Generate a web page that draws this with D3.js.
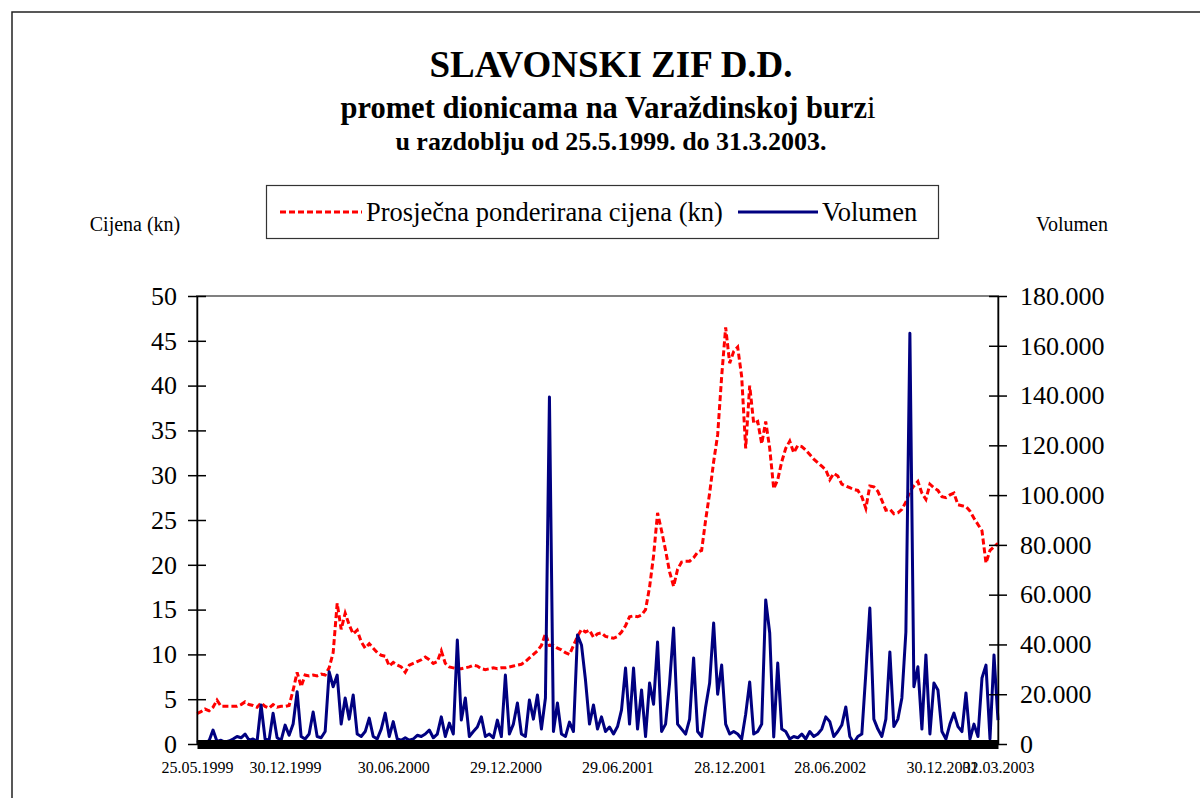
<!DOCTYPE html>
<meta charset="utf-8">
<style>
body { margin: 0; background: #fff; }
svg { display: block; font-family: "Liberation Serif", "Times New Roman", serif; }
.price { fill: none; stroke: #ff0000; stroke-width: 3px; stroke-dasharray: 6,3; }
.volume { fill: none; stroke: #000080; stroke-width: 3px; stroke-linejoin: round; }
.axis path, .axis line { stroke: #000; stroke-width: 1.5px; }
.axis text { font-family: "Liberation Serif", serif; fill: #000; }
</style>
<body>
<script src="https://d3js.org/d3.v7.min.js"></script>
<script>

// tick labels on the category axis and the sample index each one sits at
var tickLabels = ["25.05.1999", "30.12.1999", "30.06.2000", "29.12.2000", "29.06.2001",
                  "28.12.2001", "28.06.2002", "30.12.2002", "31.03.2003"];
var tickIndex = [0, 22, 49, 77, 105, 133, 158, 186, 200];

// average weighted price (kn)
var price = [
  3.4,3.6,3.9,3.7,4.1,4.9,4.2,4.2,4.2,4.2,
  4.2,4.4,4.7,4.4,4.3,4.1,4.6,4.2,4.0,4.4,
  4.1,4.2,4.2,4.3,6.0,8.0,6.4,7.7,7.6,7.7,
  7.6,7.8,7.7,8.5,10.2,15.7,12.8,14.6,13.3,12.3,
  12.7,11.4,10.7,11.2,10.7,10.2,9.9,9.8,8.7,9.1,
  8.8,8.6,8.0,8.8,9.0,9.2,9.4,9.7,9.4,9.0,
  9.2,10.4,9.0,8.6,8.5,8.4,8.4,8.5,8.6,8.8,
  8.7,8.4,8.3,8.4,8.5,8.4,8.5,8.5,8.6,8.7,
  8.8,8.9,9.2,9.6,10.0,10.4,11.0,12.3,11.0,11.0,
  10.7,10.5,10.2,10.0,11.0,12.0,12.8,12.5,12.7,11.9,
  12.3,12.4,12.0,11.9,11.8,12.0,12.5,13.2,14.2,14.3,
  14.2,14.4,15.0,17.5,21.0,25.8,23.8,21.6,19.2,17.6,
  19.5,20.3,20.4,20.4,20.8,21.4,21.6,25.0,28.0,31.5,
  34.5,41.0,46.5,42.5,43.8,44.3,41.0,33.0,40.0,35.8,
  36.0,33.5,36.0,33.0,28.5,29.5,31.5,33.0,33.8,32.5,
  33.3,33.2,32.8,32.3,31.8,31.4,31.0,30.6,29.5,30.2,
  29.9,29.0,28.8,28.6,28.4,28.3,27.6,26.3,28.8,28.7,
  28.2,27.2,26.1,26.2,25.7,25.8,26.2,27.0,28.2,28.8,
  29.3,28.0,27.3,29.0,28.6,28.3,27.6,27.5,27.8,28.0,
  26.7,26.6,26.5,26.0,25.2,24.5,23.8,20.2,21.6,22.0,
  22.4
];

// traded volume
var volume = [
  500,1000,800,1200,5600,1000,1500,800,1200,2000,
  3000,2500,4000,1500,2000,1000,15700,2000,1500,12400,
  2500,1500,7600,3500,8000,21000,3000,2000,4000,12900,
  3000,2500,5000,29000,23000,27700,8000,18500,10000,19700,
  4000,3000,5000,10400,3000,2000,6000,12400,3000,9000,
  2000,1500,2500,1500,2000,3500,3000,4000,5600,2500,
  4000,10900,3000,8400,4000,41800,9600,18500,3000,5000,
  6800,10900,3000,4000,2500,9600,3000,27700,4000,8000,
  16500,4000,3000,17700,10000,19700,6000,18500,139400,5000,
  16500,4000,3000,8800,5000,43800,39800,25700,8000,15700,
  6000,10900,5000,6800,4000,7000,13700,30500,8000,30500,
  6000,21700,3000,24500,16000,41000,5000,8000,24500,46600,
  8000,6000,4000,10000,34600,5000,3000,14900,24500,48600,
  20000,31700,8000,4000,5000,4000,2000,12000,24900,4000,
  5000,8000,57900,44600,2800,32500,6000,5000,2000,3000,
  2500,4000,2000,5000,3000,4000,6000,10900,9000,3000,
  5000,7600,14900,3000,500,3000,4000,28500,54600,10000,
  6000,3000,10000,37000,7000,10000,18500,45000,165000,23000,
  31000,6000,35800,4000,24500,21700,5000,2000,8000,12400,
  7000,5000,20500,2000,8000,3000,26500,31700,2000,35800,
  9600
];

var priceTicks = d3.range(0, 51, 5);
var volumeTicks = d3.range(0, 180001, 20000);

var W = 1200, H = 798;
var margin = {top: 296, left: 197},
    width = 801,
    height = 448;

var svg = d3.select("body").append("svg")
    .attr("width", W)
    .attr("height", H);

// outer chart border (runs off the page right and bottom)
svg.append("path")
    .attr("d", "M12,800V12H1202")
    .attr("fill", "none")
    .attr("stroke", "#222")
    .attr("stroke-width", 1.5);

// titles
svg.append("text").attr("x", 611).attr("y", 77).attr("text-anchor", "middle")
    .style("font-size", "37px").style("font-weight", "bold")
    .text("SLAVONSKI ZIF D.D.");
var t2 = svg.append("text").attr("x", 608).attr("y", 118).attr("text-anchor", "middle")
    .style("font-size", "30.5px").style("font-weight", "bold");
t2.append("tspan").text("promet dionicama na Varaždinskoj burz");
t2.append("tspan").style("font-weight", "normal").text("i");
svg.append("text").attr("x", 611).attr("y", 150).attr("text-anchor", "middle")
    .style("font-size", "26px").style("font-weight", "bold")
    .text("u razdoblju od 25.5.1999. do 31.3.2003.");

// legend
var leg = svg.append("g");
leg.append("rect").attr("x", 266.5).attr("y", 185.5).attr("width", 672).attr("height", 53)
    .attr("fill", "#fff").attr("stroke", "#333").attr("stroke-width", 1.2);
leg.append("line").attr("class", "price").attr("x1", 280).attr("x2", 362).attr("y1", 212).attr("y2", 212);
leg.append("text").attr("x", 366).attr("y", 221).style("font-size", "26.5px")
    .text("Prosječna ponderirana cijena (kn)");
leg.append("line").attr("class", "volume").attr("x1", 738).attr("x2", 818).attr("y1", 212).attr("y2", 212);
leg.append("text").attr("x", 822).attr("y", 221).style("font-size", "26.5px").text("Volumen");

// axis titles
svg.append("text").attr("x", 135).attr("y", 231).attr("text-anchor", "middle")
    .style("font-size", "20px").text("Cijena (kn)");
svg.append("text").attr("x", 1072).attr("y", 231).attr("text-anchor", "middle")
    .style("font-size", "20px").text("Volumen");

var g = svg.append("g").attr("transform", "translate(" + margin.left + "," + margin.top + ")");

var x = d3.scaleLinear().domain([0, price.length - 1]).range([0, width]);
var y = d3.scaleLinear().domain([0, 50]).range([height, 0]);
var y2 = d3.scaleLinear().domain([0, 180000]).range([height, 0]);

// plot area frame
g.append("rect").attr("width", width).attr("height", height)
    .attr("fill", "none").attr("stroke", "#808080").attr("stroke-width", 2);

var priceLine = d3.line()
    .x(function(d, i) { return x(i); })
    .y(function(d) { return y(d); });
var volumeLine = d3.line()
    .x(function(d, i) { return x(i); })
    .y(function(d) { return y2(d); });

g.append("path").datum(price).attr("class", "price").attr("d", priceLine);
g.append("path").datum(volume).attr("class", "volume").attr("d", volumeLine);

var fmt = d3.formatLocale({decimal: ",", thousands: ".", grouping: [3], currency: ["", ""]}).format(",");

// left axis, ticks crossing the line
var ya = g.append("g").attr("class", "axis")
    .call(d3.axisLeft(y).tickValues(priceTicks).tickSizeOuter(0).tickSizeInner(9).tickPadding(11));
ya.selectAll(".tick line").attr("x1", 9);
ya.selectAll("text").style("font-size", "26px");

// right axis
var yb = g.append("g").attr("class", "axis")
    .attr("transform", "translate(" + width + ",0)")
    .call(d3.axisRight(y2).tickValues(volumeTicks).tickFormat(fmt).tickSizeOuter(0).tickSizeInner(9).tickPadding(13));
yb.selectAll(".tick line").attr("x1", -9);
yb.selectAll("text").style("font-size", "26px");

// bottom axis: dense daily ticks make a solid black band
var xa = g.append("g").attr("class", "axis")
    .attr("transform", "translate(0," + height + ")")
    .call(d3.axisBottom(x).tickValues(tickIndex)
        .tickFormat(function(d, i) { return tickLabels[i]; })
        .tickSize(0).tickPadding(18));
xa.select(".domain").style("stroke-width", "9px");
xa.selectAll("text").style("font-size", "16px");

</script>
</body>
